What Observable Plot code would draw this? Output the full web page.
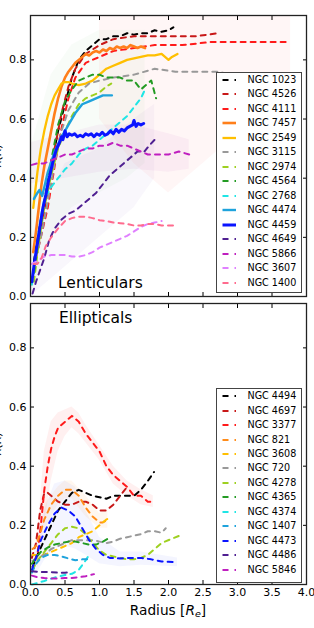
<!DOCTYPE html>
<html><head><meta charset="utf-8">
<script src="https://cdn.jsdelivr.net/npm/d3@7"></script>
<script src="https://cdn.jsdelivr.net/npm/@observablehq/plot@0.6"></script>
<style>
body{margin:0;background:#fff;font-family:"DejaVu Sans",sans-serif}
#wrap{position:relative;width:314px;height:628px;overflow:hidden;background:#fff}
.leg{position:absolute;background:#fff;border:1.5px solid #444;box-sizing:border-box}
.row{position:absolute;left:0;height:14px;width:100%}
.row svg{position:absolute;left:5px;top:0}
.row span{position:absolute;left:31px;top:0;line-height:14px;font-size:9.6px;color:#000;white-space:nowrap}
#xl{position:absolute;left:0;width:336px;text-align:center;top:602px;font-size:13.7px;color:#000}
</style></head><body><div id="wrap"></div>
<script>
// ---------- Lenticulars ----------
const lentNames = ["NGC 1023","NGC 4526","NGC 4111","NGC 7457","NGC 2549","NGC 3115","NGC 2974","NGC 4564","NGC 2768","NGC 4474","NGC 4459","NGC 4649","NGC 5866","NGC 3607","NGC 1400"];
const L1023 = [[0.05,0.12],[0.12,0.22],[0.2,0.32],[0.3,0.44],[0.4,0.56],[0.5,0.65],[0.6,0.74],[0.7,0.8],[0.8,0.83],[0.9,0.85],[1.0,0.87],[1.1,0.87],[1.2,0.88],[1.3,0.88],[1.4,0.89],[1.5,0.885],[1.6,0.89],[1.7,0.89],[1.8,0.9],[1.9,0.895],[2.0,0.9],[2.07,0.91]];
const L4526 = [[0.05,0.1],[0.15,0.22],[0.25,0.36],[0.35,0.5],[0.45,0.62],[0.55,0.71],[0.65,0.77],[0.8,0.82],[1.0,0.85],[1.2,0.87],[1.5,0.88],[1.8,0.88],[2.1,0.88],[2.4,0.88],[2.72,0.89]];
const L4111 = [[0.05,0.1],[0.15,0.2],[0.25,0.3],[0.35,0.44],[0.45,0.57],[0.55,0.67],[0.65,0.74],[0.8,0.79],[1.0,0.81],[1.2,0.83],[1.5,0.84],[1.8,0.85],[2.2,0.85],[2.6,0.86],[3.0,0.86],[3.4,0.86],[3.77,0.86]];
const L7457 = [[0.04,0.15],[0.08,0.22],[0.12,0.3],[0.16,0.38],[0.2,0.44],[0.25,0.5],[0.3,0.56],[0.35,0.62],[0.4,0.67],[0.45,0.71],[0.5,0.74],[0.55,0.76],[0.6,0.775],[0.65,0.79],[0.7,0.8],[0.75,0.81],[0.8,0.82],[0.85,0.815],[0.9,0.825],[0.95,0.83],[1.0,0.825],[1.05,0.835],[1.1,0.83],[1.15,0.84],[1.2,0.835],[1.25,0.845],[1.3,0.84],[1.35,0.845],[1.4,0.84],[1.45,0.85],[1.5,0.845],[1.55,0.84],[1.6,0.845],[1.66,0.84]];
const L2549 = [[0.04,0.3],[0.07,0.36],[0.1,0.42],[0.15,0.5],[0.2,0.56],[0.25,0.61],[0.3,0.65],[0.35,0.68],[0.4,0.7],[0.45,0.72],[0.5,0.725],[0.55,0.725],[0.6,0.72],[0.7,0.715],[0.8,0.72],[0.9,0.73],[1.0,0.75],[1.1,0.77],[1.2,0.78],[1.3,0.79],[1.4,0.8],[1.5,0.805],[1.6,0.81],[1.7,0.815],[1.8,0.815],[1.9,0.82],[1.95,0.81],[2.0,0.8],[2.05,0.81],[2.13,0.82]];
const L3115 = [[0.05,0.1],[0.15,0.2],[0.25,0.32],[0.35,0.45],[0.45,0.56],[0.55,0.63],[0.7,0.69],[0.85,0.72],[1.0,0.73],[1.2,0.74],[1.5,0.75],[1.8,0.77],[2.1,0.76],[2.4,0.76],[2.7,0.76],[2.95,0.75]];
const L2974 = [[0.05,0.05],[0.12,0.18],[0.2,0.3],[0.3,0.41],[0.4,0.5],[0.5,0.56],[0.6,0.61],[0.7,0.65],[0.8,0.67],[0.9,0.68],[1.0,0.69],[1.1,0.71],[1.17,0.72]];
const L4564 = [[0.05,0.08],[0.12,0.2],[0.2,0.32],[0.3,0.46],[0.4,0.58],[0.5,0.66],[0.6,0.7],[0.7,0.73],[0.8,0.74],[0.9,0.75],[1.0,0.75],[1.1,0.74],[1.2,0.74],[1.3,0.74],[1.4,0.73],[1.5,0.73],[1.6,0.7],[1.7,0.72],[1.75,0.73],[1.82,0.67]];
const L2768 = [[0.02,0.04],[0.08,0.15],[0.15,0.27],[0.2,0.33],[0.3,0.37],[0.4,0.4],[0.5,0.43],[0.6,0.45],[0.7,0.48],[0.8,0.5],[0.9,0.51],[1.0,0.53],[1.1,0.55],[1.2,0.57],[1.3,0.59],[1.4,0.61],[1.5,0.64],[1.6,0.67],[1.66,0.7]];
const L4474 = [[0.05,0.33],[0.1,0.35],[0.13,0.36],[0.17,0.34],[0.25,0.42],[0.35,0.49],[0.45,0.54],[0.55,0.58],[0.65,0.62],[0.75,0.65],[0.85,0.66],[0.95,0.67],[1.05,0.68],[1.1,0.68],[1.18,0.68]];
const L4459 = [[0.02,0.05],[0.06,0.12],[0.1,0.18],[0.14,0.24],[0.18,0.3],[0.22,0.34],[0.26,0.39],[0.3,0.43],[0.34,0.47],[0.38,0.5],[0.42,0.52],[0.45,0.54],[0.47,0.53],[0.5,0.56],[0.53,0.54],[0.56,0.55],[0.6,0.545],[0.64,0.55],[0.68,0.54],[0.72,0.545],[0.76,0.54],[0.8,0.55],[0.84,0.545],[0.88,0.55],[0.92,0.54],[0.96,0.55],[1.0,0.545],[1.04,0.555],[1.08,0.545],[1.12,0.55],[1.16,0.56],[1.2,0.55],[1.24,0.565],[1.28,0.555],[1.32,0.565],[1.36,0.56],[1.4,0.57],[1.44,0.575],[1.48,0.58],[1.5,0.595],[1.53,0.575],[1.56,0.585],[1.6,0.58],[1.64,0.585]];
const L4649 = [[0.03,0.01],[0.08,0.05],[0.14,0.09],[0.2,0.13],[0.27,0.19],[0.35,0.23],[0.45,0.26],[0.55,0.28],[0.65,0.29],[0.75,0.31],[0.85,0.33],[0.95,0.35],[1.05,0.38],[1.15,0.41],[1.25,0.43],[1.35,0.45],[1.45,0.47],[1.55,0.49],[1.65,0.49],[1.72,0.51],[1.8,0.53]];
const L5866 = [[0.02,0.445],[0.1,0.45],[0.2,0.45],[0.3,0.46],[0.4,0.47],[0.5,0.48],[0.6,0.48],[0.7,0.49],[0.8,0.5],[0.9,0.5],[1.0,0.51],[1.1,0.51],[1.2,0.52],[1.3,0.51],[1.4,0.51],[1.5,0.5],[1.6,0.49],[1.7,0.48],[1.8,0.48],[2.0,0.48],[2.15,0.49],[2.3,0.48]];
const L3607 = [[0.02,0.11],[0.1,0.12],[0.2,0.135],[0.3,0.14],[0.4,0.14],[0.5,0.14],[0.6,0.135],[0.7,0.135],[0.8,0.14],[0.9,0.15],[1.0,0.165],[1.1,0.175],[1.2,0.185],[1.3,0.195],[1.4,0.205],[1.5,0.22],[1.6,0.235],[1.7,0.245],[1.8,0.25],[1.9,0.255]];
const L1400 = [[0.05,0.11],[0.1,0.11],[0.16,0.13],[0.22,0.17],[0.3,0.2],[0.4,0.23],[0.5,0.255],[0.6,0.265],[0.7,0.27],[0.8,0.27],[0.9,0.265],[1.0,0.258],[1.1,0.255],[1.2,0.25],[1.3,0.248],[1.4,0.245],[1.5,0.24],[1.6,0.24],[1.7,0.245],[1.8,0.245],[1.9,0.24],[2.0,0.24],[2.08,0.24]];
const lentCurves = [L1023,L4526,L4111,L7457,L2549,L3115,L2974,L4564,L2768,L4474,L4459,L4649,L5866,L3607,L1400];

// ---------- Ellipticals ----------
const ellNames = ["NGC 4494","NGC 4697","NGC 3377","NGC 821","NGC 3608","NGC 720","NGC 4278","NGC 4365","NGC 4374","NGC 1407","NGC 4473","NGC 4486","NGC 5846"];
const E4494 = [[0.03,0.06],[0.1,0.1],[0.2,0.15],[0.3,0.2],[0.4,0.25],[0.5,0.28],[0.6,0.31],[0.7,0.32],[0.8,0.31],[0.9,0.3],[1.0,0.295],[1.1,0.29],[1.2,0.3],[1.3,0.3],[1.4,0.3],[1.5,0.3],[1.6,0.32],[1.7,0.35],[1.79,0.38]];
const E4697 = [[0.02,0.09],[0.08,0.14],[0.14,0.25],[0.2,0.31],[0.25,0.31],[0.3,0.3],[0.35,0.29],[0.4,0.28],[0.5,0.27],[0.6,0.27],[0.7,0.28],[0.8,0.28],[0.9,0.27],[1.0,0.25],[1.1,0.25],[1.2,0.27],[1.3,0.3],[1.4,0.33]];
const E3377 = [[0.05,0.08],[0.1,0.1],[0.15,0.2],[0.2,0.32],[0.25,0.4],[0.3,0.46],[0.35,0.5],[0.4,0.53],[0.5,0.55],[0.6,0.57],[0.7,0.55],[0.8,0.51],[0.9,0.48],[1.0,0.45],[1.1,0.4],[1.2,0.37],[1.3,0.35],[1.4,0.33],[1.5,0.3],[1.6,0.3],[1.7,0.28],[1.78,0.28]];
const E821 = [[0.03,0.12],[0.08,0.13],[0.15,0.18],[0.2,0.22],[0.3,0.27],[0.4,0.3],[0.5,0.32],[0.6,0.32],[0.7,0.3],[0.8,0.26],[0.9,0.23],[1.0,0.21],[1.05,0.21],[1.12,0.22]];
const E3608 = [[0.03,0.1],[0.1,0.1],[0.2,0.1],[0.3,0.11],[0.4,0.12],[0.5,0.13],[0.6,0.14],[0.7,0.16],[0.8,0.17],[0.9,0.18],[1.0,0.2],[1.1,0.22],[1.15,0.225]];
const E720 = [[0.03,0.08],[0.1,0.09],[0.2,0.1],[0.3,0.12],[0.4,0.13],[0.5,0.14],[0.6,0.15],[0.7,0.15],[0.8,0.15],[0.9,0.15],[1.0,0.145],[1.1,0.14],[1.2,0.145],[1.3,0.155],[1.4,0.16],[1.5,0.165],[1.6,0.17],[1.7,0.18],[1.8,0.18],[1.9,0.175],[1.96,0.19]];
const E4278 = [[0.03,0.05],[0.1,0.08],[0.2,0.11],[0.3,0.14],[0.4,0.17],[0.5,0.19],[0.6,0.195],[0.7,0.19],[0.8,0.17],[0.9,0.14],[1.0,0.115],[1.1,0.1],[1.2,0.095],[1.3,0.09],[1.4,0.085],[1.5,0.085],[1.6,0.09],[1.7,0.1],[1.8,0.12],[1.9,0.14],[2.05,0.155],[2.17,0.166]];
const E4365 = [[0.02,0.07],[0.08,0.09],[0.15,0.11],[0.25,0.125],[0.35,0.135],[0.45,0.14],[0.55,0.145],[0.65,0.145],[0.75,0.14],[0.85,0.135],[0.95,0.135],[1.05,0.145],[1.16,0.16]];
const E4374 = [[0.02,0.0],[0.1,0.005],[0.2,0.012],[0.3,0.02],[0.4,0.027],[0.5,0.032],[0.6,0.036],[0.7,0.05],[0.78,0.075],[0.85,0.1]];
const E1407 = [[0.02,0.04],[0.08,0.07],[0.15,0.09],[0.25,0.1],[0.35,0.1],[0.45,0.095],[0.55,0.088],[0.65,0.082],[0.75,0.085],[0.82,0.085]];
const E4473 = [[0.02,0.05],[0.08,0.09],[0.15,0.15],[0.25,0.2],[0.35,0.24],[0.45,0.26],[0.55,0.25],[0.65,0.23],[0.75,0.19],[0.85,0.15],[0.95,0.12],[1.05,0.1],[1.15,0.09],[1.3,0.088],[1.45,0.09],[1.6,0.09],[1.75,0.085],[1.9,0.078],[2.0,0.077],[2.13,0.075]];
const E4486 = [[0.02,0.045],[0.1,0.043],[0.2,0.042],[0.3,0.042],[0.4,0.04],[0.5,0.04],[0.55,0.041]];
const E5846 = [[0.02,0.03],[0.1,0.025],[0.2,0.022],[0.3,0.02],[0.4,0.02],[0.5,0.022],[0.6,0.022],[0.7,0.025],[0.8,0.028],[0.92,0.035]];
const ellCurves = [E4494,E4697,E3377,E821,E3608,E720,E4278,E4365,E4374,E1407,E4473,E4486,E5846];

// ---------- faint uncertainty bands ----------
const bx4111 = [1.0,1.5,2.0,2.5,3.0,3.5,3.77], blo4111 = [0.6,0.45,0.35,0.45,0.55,0.65,0.7], bhi4111 = [0.95,0.95,0.95,0.95,0.95,0.95,0.95];
const bx5866 = [0.0,0.5,1.0,1.5,2.0,2.3], blo5866 = [0.38,0.4,0.42,0.43,0.42,0.43], bhi5866 = [0.52,0.55,0.58,0.58,0.55,0.53];
const bx4649 = [0.0,0.5,1.0,1.5,1.8], blo4649 = [0.0,0.1,0.2,0.3,0.4], bhi4649 = [0.2,0.45,0.5,0.6,0.65];
const bx2768 = [0.0,0.3,0.6,1.0,1.4,1.66], blo2768 = [0.0,0.2,0.3,0.35,0.4,0.45], bhi2768 = [0.5,0.75,0.85,0.9,0.9,0.9];
const bx3377 = [0.1,0.2,0.3,0.4,0.5,0.6,0.7,0.8,1.0,1.2,1.4,1.6,1.78], blo3377 = [0.05,0.2,0.35,0.45,0.5,0.53,0.51,0.48,0.42,0.34,0.3,0.27,0.26], bhi3377 = [0.15,0.45,0.55,0.58,0.59,0.6,0.58,0.54,0.47,0.4,0.35,0.32,0.3];
const bx4473 = [0.05,0.2,0.35,0.5,0.65,0.8,1.0,1.3,1.6,2.13], blo4473 = [0.02,0.08,0.12,0.13,0.12,0.1,0.07,0.06,0.065,0.06], bhi4473 = [0.1,0.25,0.34,0.35,0.33,0.25,0.16,0.11,0.11,0.09];
const bx821 = [0.2,0.4,0.5,0.6,0.8,1.0,1.12], blo821 = [0.18,0.27,0.29,0.29,0.23,0.19,0.19], bhi821 = [0.27,0.33,0.35,0.35,0.3,0.24,0.25];

const xTicks = [0,0.5,1,1.5,2,2.5,3,3.5,4];
const yTicks = [0,0.2,0.4,0.6,0.8];

// ---------- styles ----------
const colorOf = {
  "NGC 1023":"#000000","NGC 4526":"#c81818","NGC 4111":"#ff1a1a","NGC 7457":"#ff7f1a","NGC 2549":"#ffbf00",
  "NGC 3115":"#999999","NGC 2974":"#9ed020","NGC 4564":"#239b23","NGC 2768":"#1fe5e5","NGC 4474":"#1fa3dc",
  "NGC 4459":"#0a14ff","NGC 4649":"#4f1f91","NGC 5866":"#bf1fbf","NGC 3607":"#e080ff","NGC 1400":"#ff6b8e",
  "NGC 4494":"#000000","NGC 4697":"#c81818","NGC 3377":"#ff1a1a","NGC 821":"#ff8c1a","NGC 3608":"#ffbf00",
  "NGC 720":"#999999","NGC 4278":"#9ed020","NGC 4365":"#239b23","NGC 4374":"#1fe5e5","NGC 1407":"#1fa3dc",
  "NGC 4473":"#0a14ff","NGC 4486":"#4f1f91","NGC 5846":"#bf1fbf"
};
const solidWidth = {"NGC 7457":2.6,"NGC 2549":2.3,"NGC 4474":2.4,"NGC 4459":3};
const DASH = "5,5";

function band(xs, lo, hi, color, op){
  return Plot.areaY(d3.zip(xs, lo, hi), {x:d=>d[0], y1:d=>d[1], y2:d=>d[2], fill:color, fillOpacity:op});
}
function lines(names, curves){
  return names.map((n,i)=>Plot.line(curves[i], {x:d=>d[0], y:d=>d[1], stroke:colorOf[n],
    strokeWidth: solidWidth[n] || 2, strokeDasharray: solidWidth[n] ? undefined : DASH, strokeLinejoin:"round"}));
}
function axes(showX, ylabel){
  return [
    Plot.axisY(yTicks, {anchor:"left", tickSize:0, tickPadding:4, tickFormat:d3.format(".1f"), fontSize:11, label:ylabel, labelAnchor:"center", labelOffset:37, labelArrow:"none"}),
    Plot.axisY(yTicks, {anchor:"left", tickSize:-4, fill:"none", label:null}),
    Plot.axisY(yTicks, {anchor:"right", tickSize:-4, fill:"none", label:null}),
    showX ? Plot.axisX(xTicks, {anchor:"bottom", tickSize:0, tickPadding:4, tickFormat:d3.format(".1f"), fontSize:11, label:null}) : null,
    Plot.axisX(xTicks, {anchor:"bottom", tickSize:-4, fill:"none", label:null}),
    Plot.axisX(xTicks, {anchor:"top", tickSize:-4, fill:"none", label:null}),
    Plot.frame({stroke:"#222", strokeWidth:1.3})
  ];
}
const common = {width:314, marginLeft:30, marginRight:8, x:{domain:[0,4]}, y:{domain:[0,0.95]},
  style:{fontFamily:"DejaVu Sans, sans-serif", color:"#000", background:"transparent", overflow:"visible"}};

const topPlot = Plot.plot({...common, height:300, marginTop:15, marginBottom:4,
  marks:[
    band(bx4111, blo4111, bhi4111, "#ff3030", 0.045),
    band(bx2768, blo2768, bhi2768, "#90c890", 0.06),
    band(bx4649, blo4649, bhi4649, "#8060c0", 0.05),
    band(bx5866, blo5866, bhi5866, "#c040c0", 0.06),
    ...lines(lentNames, lentCurves),
    Plot.text(["Lenticulars"], {frameAnchor:"bottom-left", dx:27.5, dy:-8.5, fontSize:15.5, textAnchor:"start", lineAnchor:"bottom", fill:"#000"}),
    ...axes(false, "λ(R)")
  ]});
const botPlot = Plot.plot({...common, height:328, marginTop:3, marginBottom:44,
  marks:[
    band(bx3377, blo3377, bhi3377, "#ff3030", 0.07),
    band(bx4473, blo4473, bhi4473, "#3040ff", 0.05),
    band(bx821, blo821, bhi821, "#ff9020", 0.07),
    ...lines(ellNames, ellCurves),
    Plot.text(["Ellipticals"], {frameAnchor:"top-left", dx:28.5, dy:8.5, fontSize:15.5, textAnchor:"start", lineAnchor:"top", fill:"#000"}),
    ...axes(true, "λ(R)")
  ]});

const wrap = document.getElementById("wrap");
function place(el, t){ const d=document.createElement("div"); d.style.cssText=`position:absolute;left:0;top:${t}px`; d.appendChild(el); wrap.appendChild(d); }
place(topPlot, 0); place(botPlot, 300);

function legend(names, left, topY, w, h, firstY, step){
  const box = document.createElement("div");
  box.className = "leg";
  box.style.cssText += `left:${left}px;top:${topY}px;width:${w}px;height:${h}px`;
  names.forEach((n,i)=>{
    const r = document.createElement("div");
    r.className = "row";
    r.style.top = (firstY - topY - 7 + i*step - 1.5) + "px";
    const sw = solidWidth[n];
    r.innerHTML = `<svg width="16" height="14"><line x1="0.5" x2="14" y1="7" y2="7" stroke="${colorOf[n]}" stroke-width="${sw||2}" ${sw?"":`stroke-dasharray="6,6"`}/></svg><span>${n}</span>`;
    box.appendChild(r);
  });
  wrap.appendChild(box);
}
legend(lentNames, 215.5, 71.5, 86.5, 221, 80, 14.5);
legend(ellNames, 215.5, 388, 86.5, 195, 396.7, 14.45);

const xl = document.createElement("div");
xl.id = "xl";
xl.innerHTML = `Radius [<i>R</i><sub style="font-size:0.7em;vertical-align:-0.25em"><i>e</i></sub>]`;
wrap.appendChild(xl);
</script></body></html>
